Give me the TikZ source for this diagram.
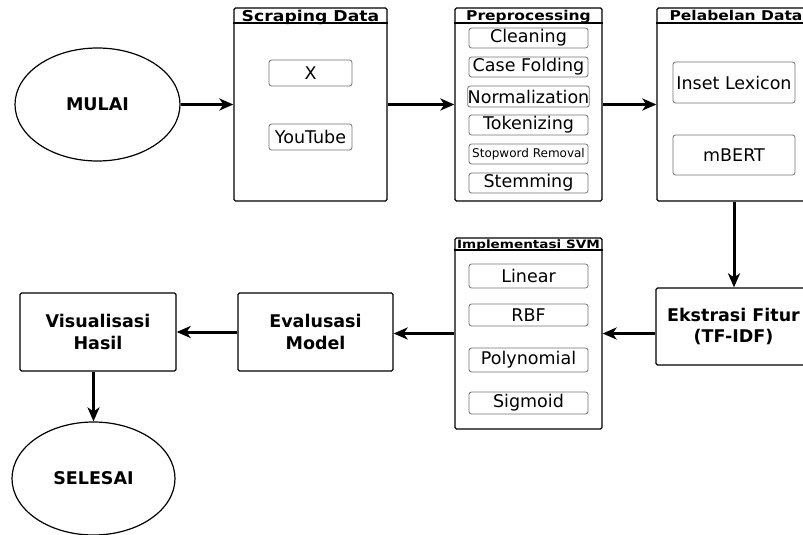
\documentclass[tikz,border=0pt]{standalone}
\usepackage{fontspec}
\setmainfont{DejaVu Sans}
\usepackage{graphicx}
\usetikzlibrary{shapes.geometric,arrows.meta}
\begin{document}
\begin{tikzpicture}[x=1pt,y=-1pt,
  mainbox/.style={draw, line width=1.3pt, rounded corners=1.5pt, inner sep=0pt},
  innerbox/.style={draw=black!55, line width=0.8pt, rounded corners=2.5pt, inner sep=0pt,
     font=\fontsize{17.5}{20}\selectfont},
  ovalnode/.style={draw, shape=ellipse, line width=1.2pt, inner sep=0pt,
     font=\bfseries\fontsize{17.5}{21}\selectfont},
  boldlabel/.style={font=\bfseries\fontsize{17.5}{21.5}\selectfont, align=center, inner sep=0pt},
  titletext/.style={anchor=base, inner sep=0pt, font=\bfseries\fontsize{13.5}{15}\selectfont},
  smalltitle/.style={anchor=base, inner sep=0pt, font=\bfseries\fontsize{11.5}{13}\selectfont},
  headline/.style={line width=1.3pt},
  arr/.style={line width=3pt, -{Stealth[length=14pt, width=12pt, inset=4pt]}}
]
\useasboundingbox (0,0) rectangle (803,535);
\fill[white] (0,0) rectangle (803,535);
\clip (0,0) rectangle (803,535);

% start
\node[ovalnode, minimum width=165pt, minimum height=113pt] (mulai) at (97.5,104.5) {MULAI};

% Scraping Data
\node[mainbox, minimum width=153pt, minimum height=193pt] (scrape) at (310.5,104.5) {};
\draw[headline] (scrape.west |- 0,23) -- (scrape.east |- 0,23);
\node[titletext, font=\bfseries\fontsize{15}{16}\selectfont] (scrapetitle) at (310.5,21.5) {\scalebox{1.15}[1]{Scraping Data}};
\node[innerbox, minimum width=83pt, minimum height=26pt] (sx) at (310.5,73) {X};
\node[innerbox, minimum width=83pt, minimum height=26pt] (syt) at (310.5,137) {YouTube};

% Preprocessing
\node[mainbox, minimum width=147pt, minimum height=193pt] (prep) at (528.5,104.5) {};
\draw[headline] (prep.west |- 0,23) -- (prep.east |- 0,23);
\node[titletext] (preptitle) at (528.5,20.5) {\scalebox{1.15}[1]{Preprocessing}};
\node[innerbox, minimum width=119pt, minimum height=20pt] (pclean) at (528.5,38) {Cleaning};
\node[innerbox, minimum width=119pt, minimum height=20pt] (pcase) at (528.5,67) {Case Folding};
\node[innerbox, minimum width=119pt, minimum height=21pt] (pnorm) at (528.5,96.5) {Normalization};
\node[innerbox, minimum width=119pt, minimum height=20pt] (ptok) at (528.5,125) {Tokenizing};
\node[innerbox, minimum width=119pt, minimum height=20pt, font=\fontsize{12}{14}\selectfont] (pstop) at (528.5,154) {Stopword Removal};
\node[innerbox, minimum width=119pt, minimum height=20pt] (pstem) at (528.5,183) {Stemming};

% Pelabelan Data
\node[mainbox, minimum width=154pt, minimum height=193pt] (label) at (734,104.5) {};
\draw[headline] (label.west |- 0,23) -- (label.east |- 0,23);
\node[titletext] (labeltitle) at (736,20.5) {\scalebox{1.15}[1]{Pelabelan Data}};
\node[innerbox, minimum width=122pt, minimum height=41pt] (llex) at (734,82.5) {Inset Lexicon};
\node[innerbox, minimum width=122pt, minimum height=40pt] (lbert) at (734,155) {mBERT};

% Ekstrasi Fitur
\node[mainbox, boldlabel, minimum width=155pt, minimum height=77pt] (ekstrasi) at (733.5,326.5) {Ekstrasi Fitur\\(TF-IDF)};

% Implementasi SVM
\node[mainbox, minimum width=147pt, minimum height=191pt] (svm) at (528.5,333.5) {};
\draw[headline] (svm.west |- 0,250) -- (svm.east |- 0,250);
\node[smalltitle] (svmtitle) at (528.5,248) {\scalebox{1.18}[1]{Implementasi SVM}};
\node[innerbox, minimum width=119pt, minimum height=24pt] (slin) at (528.5,276) {Linear};
\node[innerbox, minimum width=119pt, minimum height=22pt] (srbf) at (528.5,315) {RBF};
\node[innerbox, minimum width=119pt, minimum height=24pt] (spoly) at (528.5,360) {Polynomial};
\node[innerbox, minimum width=119pt, minimum height=22pt] (ssig) at (528.5,403) {Sigmoid};

% Evaluasi & Visualisasi
\node[mainbox, boldlabel, minimum width=155pt, minimum height=78pt] (eval) at (315.5,332) {Evalusasi\\Model};
\node[mainbox, boldlabel, minimum width=156pt, minimum height=78pt] (visual) at (98,332) {Visualisasi\\Hasil};

% end
\node[ovalnode, minimum width=163pt, minimum height=113pt] (selesai) at (93.5,478.5) {SELESAI};

% connectors
\draw[arr] (mulai.east) -- (scrape.west |- mulai.east);
\draw[arr] (scrape.east) -- (prep.west);
\draw[arr] (prep.east) -- (label.west);
\draw[arr] (label.south) -- (label.south |- ekstrasi.north);
\draw[arr] (ekstrasi.west |- svm.east) -- (svm.east);
\draw[arr] (svm.west) -- (eval.east |- svm.west);
\draw[arr] (eval.west) -- (visual.east);
\draw[arr] (selesai.north |- visual.south) -- (selesai.north);
\end{tikzpicture}
\end{document}
